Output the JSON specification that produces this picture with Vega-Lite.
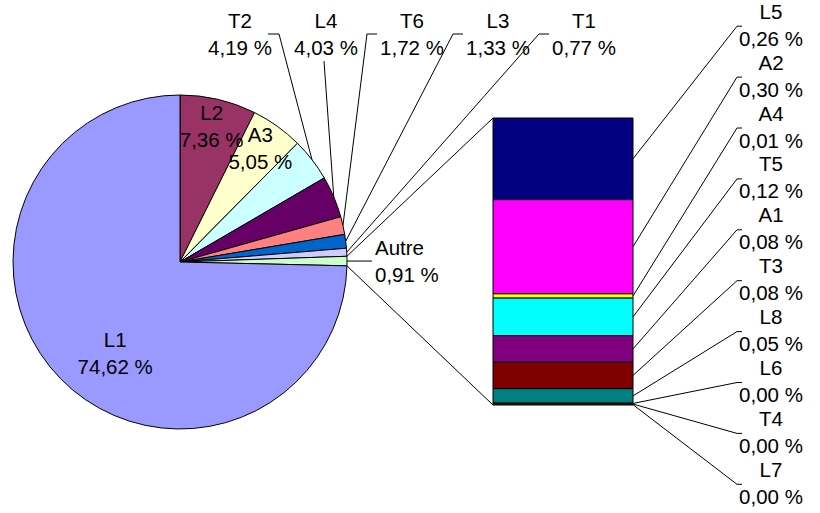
{
  "$schema": "https://vega.github.io/schema/vega-lite/v6.json",
  "width": 820,
  "height": 513,
  "autosize": {"type": "none"},
  "padding": 0,
  "background": "white",
  "config": {"view": {"stroke": null}},
  "datasets": {
    "pie": [
      {"name": "L2", "pct": 7.36, "o": 1},
      {"name": "A3", "pct": 5.05, "o": 2},
      {"name": "T2", "pct": 4.19, "o": 3},
      {"name": "L4", "pct": 4.03, "o": 4},
      {"name": "T6", "pct": 1.72, "o": 5},
      {"name": "L3", "pct": 1.33, "o": 6},
      {"name": "T1", "pct": 0.77, "o": 7},
      {"name": "Autre", "pct": 0.91, "o": 8},
      {"name": "L1", "pct": 74.62, "o": 9}
    ],
    "bar": [
      {"name": "L5", "pct": 0.26, "o": 1},
      {"name": "A2", "pct": 0.30, "o": 2},
      {"name": "A4", "pct": 0.0136, "o": 3},
      {"name": "T5", "pct": 0.1195, "o": 4},
      {"name": "A1", "pct": 0.0846, "o": 5},
      {"name": "T3", "pct": 0.0843, "o": 6},
      {"name": "L8", "pct": 0.046, "o": 7},
      {"name": "L6", "pct": 0.002, "o": 8},
      {"name": "T4", "pct": 0.002, "o": 9},
      {"name": "L7", "pct": 0.002, "o": 10}
    ]
  },
  "layer": [
    {
      "data": {"name": "pie"},
      "mark": {"type": "arc", "radius": 167, "stroke": "black", "strokeWidth": 1},
      "encoding": {
        "theta": {"field": "pct", "type": "quantitative", "stack": true},
        "order": {"field": "o", "type": "quantitative"},
        "x": {"value": 180},
        "y": {"value": 262},
        "color": {
          "field": "name",
          "type": "nominal",
          "legend": null,
          "scale": {
            "domain": ["L2","A3","T2","L4","T6","L3","T1","Autre","L1","L5","A2","A4","T5","A1","T3","L8","L6","T4","L7"],
            "range": ["#993366","#FFFFCC","#CCFFFF","#660066","#FF8080","#0066CC","#CCCCFF","#CCFFCC","#9999FF","#000080","#FF00FF","#FFFF00","#00FFFF","#800080","#800000","#008080","#0000FF","#CCFFFF","#CCFFCC"]
          }
        }
      }
    },
    {
      "data": {"name": "pie"},
      "transform": [
        {"window": [{"op": "sum", "field": "pct", "as": "cum"}], "sort": [{"field": "o"}], "frame": [null, 0]},
        {"joinaggregate": [{"op": "sum", "field": "pct", "as": "tot"}]},
        {"calculate": "(datum.cum - datum.pct/2)/datum.tot*2*PI", "as": "mid"},
        {"calculate": "datum.name + '\\n' + replace(format(datum.pct, '.2f'), '.', ',') + ' %'", "as": "label"},
        {"filter": "datum.o <= 2"},
        {"calculate": "180 + 138*sin(datum.mid)", "as": "tx"},
        {"calculate": "262 - 138*cos(datum.mid)", "as": "ty"}
      ],
      "mark": {"type": "text", "align": "center", "baseline": "middle", "lineBreak": "\n", "lineHeight": 27, "font": "Liberation Sans", "fontSize": 20.5, "fill": "black", "dy": -13.5},
      "encoding": {
        "x": {"field": "tx", "type": "quantitative", "scale": null, "axis": null},
        "y": {"field": "ty", "type": "quantitative", "scale": null, "axis": null},
        "text": {"field": "label", "type": "nominal"}
      }
    },
    {
      "data": {"name": "pie"},
      "transform": [
        {"window": [{"op": "sum", "field": "pct", "as": "cum"}], "sort": [{"field": "o"}], "frame": [null, 0]},
        {"joinaggregate": [{"op": "sum", "field": "pct", "as": "tot"}]},
        {"calculate": "(datum.cum - datum.pct/2)/datum.tot*2*PI", "as": "mid"},
        {"calculate": "datum.name + '\\n' + replace(format(datum.pct, '.2f'), '.', ',') + ' %'", "as": "label"},
        {"filter": "datum.name == 'L1'"},
        {"calculate": "180 + 113*sin(datum.mid)", "as": "tx"},
        {"calculate": "262 - 113*cos(datum.mid)", "as": "ty"}
      ],
      "mark": {"type": "text", "align": "center", "baseline": "middle", "lineBreak": "\n", "lineHeight": 27, "font": "Liberation Sans", "fontSize": 20.5, "fill": "black", "dx": 16, "dy": 0.5},
      "encoding": {
        "x": {"field": "tx", "type": "quantitative", "scale": null, "axis": null},
        "y": {"field": "ty", "type": "quantitative", "scale": null, "axis": null},
        "text": {"field": "label", "type": "nominal"}
      }
    },
    {
      "data": {"name": "pie"},
      "transform": [
        {"window": [{"op": "sum", "field": "pct", "as": "cum"}], "sort": [{"field": "o"}], "frame": [null, 0]},
        {"joinaggregate": [{"op": "sum", "field": "pct", "as": "tot"}]},
        {"calculate": "(datum.cum - datum.pct/2)/datum.tot*2*PI", "as": "mid"},
        {"calculate": "180 + 167*sin(datum.mid)", "as": "ex"},
        {"calculate": "262 - 167*cos(datum.mid)", "as": "ey"},
        {"calculate": "datum.name + '\\n' + replace(format(datum.pct, '.2f'), '.', ',') + ' %'", "as": "label"},
        {"filter": "datum.name == 'Autre'"},
        {"calculate": "datum.ex + 28", "as": "tx"},
        {"calculate": "datum.ey - 1", "as": "ty"},
        {"calculate": "datum.ex + 25", "as": "hx"}
      ],
      "layer": [
        {
          "mark": {"type": "text", "align": "left", "baseline": "middle", "lineBreak": "\n", "lineHeight": 27, "font": "Liberation Sans", "fontSize": 20.5, "fill": "black", "dy": -11},
          "encoding": {
            "x": {"field": "tx", "type": "quantitative", "scale": null, "axis": null},
            "y": {"field": "ty", "type": "quantitative", "scale": null, "axis": null},
            "text": {"field": "label", "type": "nominal"}
          }
        },
        {
          "mark": {"type": "rule", "color": "black", "strokeWidth": 1},
          "encoding": {
            "x": {"field": "ex", "type": "quantitative", "scale": null, "axis": null},
            "y": {"field": "ey", "type": "quantitative", "scale": null, "axis": null},
            "x2": {"field": "hx"},
            "y2": {"field": "ey"}
          }
        }
      ]
    },
    {
      "data": {"name": "pie"},
      "transform": [
        {"window": [{"op": "sum", "field": "pct", "as": "cum"}], "sort": [{"field": "o"}], "frame": [null, 0]},
        {"joinaggregate": [{"op": "sum", "field": "pct", "as": "tot"}]},
        {"calculate": "(datum.cum - datum.pct/2)/datum.tot*2*PI", "as": "mid"},
        {"calculate": "180 + 167*sin(datum.mid)", "as": "ex"},
        {"calculate": "262 - 167*cos(datum.mid)", "as": "ey"},
        {"calculate": "datum.name + '\\n' + replace(format(datum.pct, '.2f'), '.', ',') + ' %'", "as": "label"},
        {"filter": "datum.o >= 3 && datum.o <= 7"},
        {"calculate": "240 + 86*(datum.o - 3)", "as": "lx"},
        {"calculate": "datum.ex - datum.lx > 45 ? 1 : (datum.ex - datum.lx > -30 ? 0 : -1)", "as": "side"},
        {"calculate": "datum.side == 1 ? datum.lx + 39 : (datum.side == 0 ? datum.lx - 2 : datum.lx - 45)", "as": "hx"},
        {"calculate": "datum.side == 0 ? 61 : 34", "as": "hy"},
        {"calculate": "datum.side == 1 ? datum.lx + 28 : (datum.side == 0 ? datum.lx - 2 : datum.lx - 35)", "as": "hx2"}
      ],
      "layer": [
        {
          "mark": {"type": "text", "align": "center", "baseline": "middle", "lineBreak": "\n", "lineHeight": 27, "font": "Liberation Sans", "fontSize": 20.5, "fill": "black", "dy": -13.5},
          "encoding": {
            "x": {"field": "lx", "type": "quantitative", "scale": null, "axis": null},
            "y": {"datum": 35, "type": "quantitative", "scale": null, "axis": null},
            "text": {"field": "label", "type": "nominal"}
          }
        },
        {
          "mark": {"type": "rule", "color": "black", "strokeWidth": 1},
          "encoding": {
            "x": {"field": "ex", "type": "quantitative", "scale": null, "axis": null},
            "y": {"field": "ey", "type": "quantitative", "scale": null, "axis": null},
            "x2": {"field": "hx"},
            "y2": {"field": "hy"}
          }
        },
        {
          "mark": {"type": "rule", "color": "black", "strokeWidth": 1},
          "encoding": {
            "x": {"field": "hx", "type": "quantitative", "scale": null, "axis": null},
            "y": {"field": "hy", "type": "quantitative", "scale": null, "axis": null},
            "x2": {"field": "hx2"},
            "y2": {"field": "hy"}
          }
        }
      ]
    },
    {
      "data": {"name": "pie"},
      "transform": [
        {"window": [{"op": "sum", "field": "pct", "as": "cum"}], "sort": [{"field": "o"}], "frame": [null, 0]},
        {"joinaggregate": [{"op": "sum", "field": "pct", "as": "tot"}]},
        {"filter": "datum.name == 'Autre'"},
        {"calculate": "(datum.cum - datum.pct)/datum.tot*2*PI", "as": "a0"},
        {"calculate": "datum.cum/datum.tot*2*PI", "as": "a1"},
        {"calculate": "180 + 167*sin(datum.a0)", "as": "sx"},
        {"calculate": "262 - 167*cos(datum.a0)", "as": "sy"},
        {"calculate": "180 + 167*sin(datum.a1)", "as": "tx"},
        {"calculate": "262 - 167*cos(datum.a1)", "as": "ty"}
      ],
      "layer": [
        {
          "mark": {"type": "rule", "color": "black", "strokeWidth": 1},
          "encoding": {
            "x": {"field": "sx", "type": "quantitative", "scale": null, "axis": null},
            "y": {"field": "sy", "type": "quantitative", "scale": null, "axis": null},
            "x2": {"value": 493},
            "y2": {"value": 118}
          }
        },
        {
          "mark": {"type": "rule", "color": "black", "strokeWidth": 1},
          "encoding": {
            "x": {"field": "tx", "type": "quantitative", "scale": null, "axis": null},
            "y": {"field": "ty", "type": "quantitative", "scale": null, "axis": null},
            "x2": {"value": 493},
            "y2": {"value": 405}
          }
        }
      ]
    },
    {
      "data": {"name": "bar"},
      "transform": [
        {"window": [{"op": "sum", "field": "pct", "as": "cum"}], "sort": [{"field": "o"}], "frame": [null, 0]},
        {"joinaggregate": [{"op": "sum", "field": "pct", "as": "tot"}]},
        {"calculate": "118 + 287*(datum.cum - datum.pct)/datum.tot", "as": "y0"},
        {"calculate": "118 + 287*datum.cum/datum.tot", "as": "y1"},
        {"calculate": "(datum.y0 + datum.y1)/2", "as": "ym"},
        {"calculate": "26.2 + 50.9*(datum.o - 1)", "as": "ly"},
        {"calculate": "datum.name + '\\n' + replace(format(datum.pct, '.2f'), '.', ',') + ' %'", "as": "label"}
      ],
      "layer": [
        {
          "mark": {"type": "rect", "stroke": "black", "strokeWidth": 1},
          "encoding": {
            "x": {"value": 493},
            "x2": {"value": 633},
            "y": {"field": "y0", "type": "quantitative", "scale": null, "axis": null},
            "y2": {"field": "y1"},
            "color": {"field": "name", "type": "nominal", "legend": null}
          }
        },
        {
          "mark": {"type": "rule", "color": "black", "strokeWidth": 1},
          "encoding": {
            "x": {"value": 633},
            "y": {"field": "ym", "type": "quantitative", "scale": null, "axis": null},
            "x2": {"value": 737},
            "y2": {"field": "ly"}
          }
        },
        {
          "mark": {"type": "rule", "color": "black", "strokeWidth": 1},
          "encoding": {
            "x": {"value": 737},
            "y": {"field": "ly", "type": "quantitative", "scale": null, "axis": null},
            "x2": {"value": 742},
            "y2": {"field": "ly"}
          }
        },
        {
          "mark": {"type": "text", "align": "center", "baseline": "middle", "lineBreak": "\n", "lineHeight": 27, "font": "Liberation Sans", "fontSize": 20.5, "fill": "black", "dy": -13.5},
          "encoding": {
            "x": {"value": 771},
            "y": {"field": "ly", "type": "quantitative", "scale": null, "axis": null},
            "text": {"field": "label", "type": "nominal"}
          }
        }
      ]
    }
  ]
}
